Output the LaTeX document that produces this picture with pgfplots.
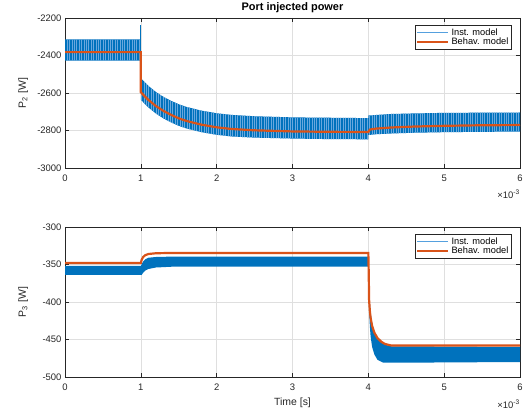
\documentclass[border=0pt]{standalone}
\usepackage{fontspec}
\setmainfont{Liberation Sans}
\usepackage{pgfplots}
\pgfplotsset{compat=1.18}
\usetikzlibrary{patterns.meta}
\definecolor{mblue}{RGB}{0,114,189}
\definecolor{mstripe}{RGB}{105,168,222}
\definecolor{mlegblue}{RGB}{85,160,222}
\definecolor{morange}{RGB}{217,83,25}
\definecolor{maxis}{RGB}{38,38,38}
\definecolor{mgrid}{RGB}{223,223,223}
\pgfplotsset{
  legend image code/.code={\draw[#1] (0bp,0bp) -- (31bp,0bp);},
  mstyle/.style={
    scale only axis, width=455bp, height=150bp,
    xmin=0, xmax=6, xtick={0,1,2,3,4,5,6},
    grid=major, major grid style={mgrid, line width=0.5pt},
    axis line style={maxis, line width=0.5pt},
    tick style={maxis, line width=0.5pt},
    major tick length=4bp,
    ticklabel style={font=\fontsize{9.5}{11}\selectfont, text=maxis},
    xticklabel style={yshift=-3.5bp},
    /pgf/number format/assume math mode=true,
    /pgf/number format/1000 sep={},
    label style={font=\fontsize{10.5}{12}\selectfont, text=maxis},
    ylabel style={at={(axis description cs:-0.092,0.5)}, anchor=center},
    legend style={at={(0.982,0.953)}, anchor=north east, draw=maxis, line width=0.5pt,
      font=\fontsize{9.3}{10.5}\selectfont, inner sep=1.2pt, row sep=-2.5pt, cells={anchor=west}},
  }
}
\begin{document}
\begin{tikzpicture}
\path[use as bounding box] (0,0) rectangle (529bp,417bp);
% ---------------- top panel ----------------
\begin{axis}[mstyle, name=ax1, at={(65bp,249bp)}, anchor=south west,
  ymin=-3000, ymax=-2200, ytick={-3000,-2800,-2600,-2400,-2200},
  ylabel={P\textsubscript{2} [W]},
  title={Port injected power},
  title style={font=\bfseries\fontsize{11}{12}\selectfont, yshift=-4bp}]
\addlegendimage{mlegblue, line width=1.2pt}
\addlegendentry{Inst. model}
\addlegendimage{morange, line width=2.2pt}
\addlegendentry{Behav. model}
% Inst. model band (upper envelope, then lower envelope back)
\addplot[forget plot, draw=none, fill=mblue] coordinates {
(0,-2314) (1,-2314) (1,-2521) (1.05,-2542) (1.1,-2562) (1.2,-2595) (1.3,-2621)
(1.4,-2642) (1.5,-2660) (1.6,-2674) (1.8,-2694) (2.0,-2708) (2.2,-2717) (2.5,-2724)
(3.0,-2730) (3.5,-2732) (4.0,-2734) (4.0,-2720) (4.3,-2712) (4.6,-2709) (5.0,-2706)
(5.5,-2705) (6.0,-2704)
(6.0,-2806) (5.5,-2807) (5.0,-2809) (4.6,-2812) (4.3,-2816) (4.1,-2820) (4.0,-2824)
(4.0,-2847) (3.5,-2846) (3.0,-2843) (2.5,-2838) (2.2,-2832) (2.0,-2823) (1.8,-2809)
(1.6,-2789) (1.5,-2775) (1.4,-2757) (1.3,-2736) (1.2,-2710) (1.1,-2677) (1.05,-2657)
(1.0,-2636) (1,-2428) (0,-2428)} -- cycle;
\addplot[forget plot, draw=none, pattern={Lines[angle=90, distance=2.4bp, line width=0.9bp]}, pattern color=mstripe] coordinates {
(0,-2314) (1,-2314) (1,-2521) (1.05,-2542) (1.1,-2562) (1.2,-2595) (1.3,-2621)
(1.4,-2642) (1.5,-2660) (1.6,-2674) (1.8,-2694) (2.0,-2708) (2.2,-2717) (2.5,-2724)
(3.0,-2730) (3.5,-2732) (4.0,-2734) (4.0,-2720) (4.3,-2712) (4.6,-2709) (5.0,-2706)
(5.5,-2705) (6.0,-2704)
(6.0,-2806) (5.5,-2807) (5.0,-2809) (4.6,-2812) (4.3,-2816) (4.1,-2820) (4.0,-2824)
(4.0,-2847) (3.5,-2846) (3.0,-2843) (2.5,-2838) (2.2,-2832) (2.0,-2823) (1.8,-2809)
(1.6,-2789) (1.5,-2775) (1.4,-2757) (1.3,-2736) (1.2,-2710) (1.1,-2677) (1.05,-2657)
(1.0,-2636) (1,-2428) (0,-2428)} -- cycle;
% switching spike at t = 1 ms
\addplot[forget plot, mblue, line width=1.2pt] coordinates {(1,-2430) (1,-2237)};
% Behav. model
\addplot[forget plot, morange, line width=2.2pt] coordinates {
(0,-2382) (1,-2382) (1,-2596) (1.05,-2617) (1.1,-2637) (1.2,-2670) (1.3,-2696)
(1.4,-2717) (1.5,-2735) (1.6,-2749) (1.8,-2769) (2.0,-2783) (2.2,-2792) (2.5,-2799)
(3.0,-2805) (3.5,-2807) (4.0,-2808) (4.02,-2795) (4.1,-2790) (4.3,-2784) (4.6,-2779)
(5.0,-2775) (5.5,-2772) (6.0,-2771)};
\end{axis}
\node[anchor=north east, inner sep=0pt, font=\fontsize{9.5}{11}\selectfont, text=maxis]
  at ([yshift=-22bp]ax1.south east) {×10\textsuperscript{-3}};
% ---------------- bottom panel ----------------
\begin{axis}[mstyle, name=ax2, at={(65bp,40bp)}, anchor=south west,
  ymin=-500, ymax=-300, ytick={-500,-450,-400,-350,-300},
  ylabel={P\textsubscript{3} [W]},
  xlabel={Time [s]},
  xlabel style={yshift=0bp}]
\addlegendimage{mlegblue, line width=1.2pt}
\addlegendentry{Inst. model}
\addlegendimage{morange, line width=2.2pt}
\addlegendentry{Behav. model}
\addplot[forget plot, draw=none, fill=mblue] coordinates {
(0,-352) (1,-352) (1.01,-350) (1.03,-346) (1.06,-343) (1.1,-341) (1.2,-340)
(1.4,-339.5) (4.0,-339.5) (4.01,-372) (4.02,-400) (4.03,-414) (4.05,-428) (4.08,-440)
(4.12,-448) (4.17,-454) (4.22,-457) (4.3,-459) (6.0,-460)
(6.0,-480) (4.3,-481) (4.2,-481) (4.12,-477) (4.08,-470) (4.05,-460) (4.03,-446)
(4.02,-432) (4.01,-410) (4.0,-353) (1.4,-353) (1.2,-354) (1.1,-356) (1.06,-358)
(1.03,-361) (1.01,-364) (1,-364) (0,-364)} -- cycle;
\addplot[forget plot, morange, line width=2.2pt] coordinates {
(0,-348) (1,-348) (1.01,-344) (1.03,-340) (1.06,-337.5) (1.1,-336) (1.2,-335)
(1.4,-334.6) (4.0,-334.6) (4.005,-360) (4.01,-397) (4.02,-412) (4.03,-421)
(4.05,-432) (4.08,-441) (4.12,-448) (4.17,-453) (4.22,-456) (4.3,-458) (6.0,-458)};
\end{axis}
\node[anchor=north east, inner sep=0pt, font=\fontsize{9.5}{11}\selectfont, text=maxis]
  at ([yshift=-23bp]ax2.south east) {×10\textsuperscript{-3}};
\end{tikzpicture}
\end{document}
